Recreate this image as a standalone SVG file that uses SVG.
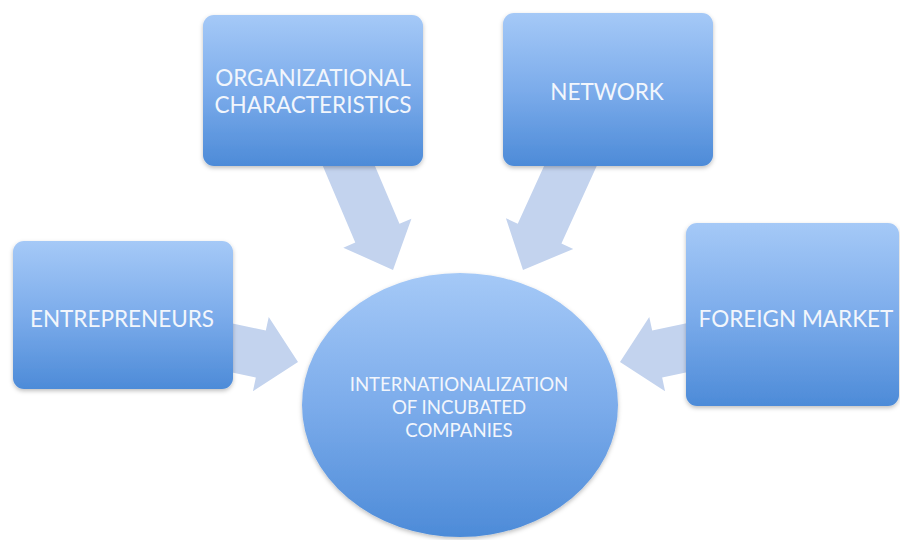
<svg xmlns="http://www.w3.org/2000/svg" width="900" height="540" viewBox="0 0 900 540">
  <defs>
    <linearGradient id="gBox" x1="0" y1="0" x2="0" y2="1">
      <stop offset="0" stop-color="#a5c9f7"/>
      <stop offset="0.5" stop-color="#7caceb"/>
      <stop offset="1" stop-color="#4d8bd8"/>
    </linearGradient>
    <filter id="shadow" x="-10%" y="-10%" width="120%" height="125%">
      <feDropShadow dx="0" dy="2" stdDeviation="2" flood-color="#000000" flood-opacity="0.25"/>
    </filter>
  </defs>
  <style>
    .box { fill: url(#gBox); filter: url(#shadow); }
    .arrow { fill: #c3d3ee; }
    .lbl { font-family: Lato, "Open Sans", "Liberation Sans", sans-serif; fill: #f2f6fc; text-anchor: middle; }
    .big { font-size: 22.5px; }
    .small { font-size: 18.6px; }
  </style>
  <rect width="900" height="540" fill="#ffffff"/>

  <g id="connectors">
    <path class="arrow" transform="translate(393,270) rotate(67)" d="M-135,-24 H-40 V-37 L0,0 L-40,37 V24 H-135 Z"/>
    <path class="arrow" transform="translate(523,270) rotate(114.5)" d="M-135,-24 H-40 V-37 L0,0 L-40,37 V24 H-135 Z"/>
    <path class="arrow" transform="translate(298,362) rotate(12)" d="M-90,-24 H-38 V-38 L0,0 L-38,38 V24 H-90 Z"/>
    <path class="arrow" transform="translate(620,362) rotate(168)" d="M-90,-24 H-38 V-38 L0,0 L-38,38 V24 H-90 Z"/>
  </g>

  <g id="org">
    <rect class="box" x="203" y="15" width="220" height="151" rx="11"/>
    <text class="lbl big" x="313" y="86">ORGANIZATIONAL</text>
    <text class="lbl big" x="313" y="113">CHARACTERISTICS</text>
  </g>
  <g id="network">
    <rect class="box" x="503" y="13" width="210" height="153" rx="11"/>
    <text class="lbl big" x="607" y="100">NETWORK</text>
  </g>
  <g id="entrepreneurs">
    <rect class="box" x="13" y="241" width="220" height="148" rx="11"/>
    <text class="lbl big" x="122" y="327">ENTREPRENEURS</text>
  </g>
  <g id="foreign">
    <rect class="box" x="686" y="223" width="213" height="183" rx="11"/>
    <text class="lbl big" x="796" y="327">FOREIGN MARKET</text>
  </g>
  <g id="center">
    <ellipse class="box" cx="460" cy="405" rx="158" ry="132"/>
    <text class="lbl small" x="459" y="391">INTERNATIONALIZATION</text>
    <text class="lbl small" x="459" y="414">OF INCUBATED</text>
    <text class="lbl small" x="459" y="437">COMPANIES</text>
  </g>
</svg>
